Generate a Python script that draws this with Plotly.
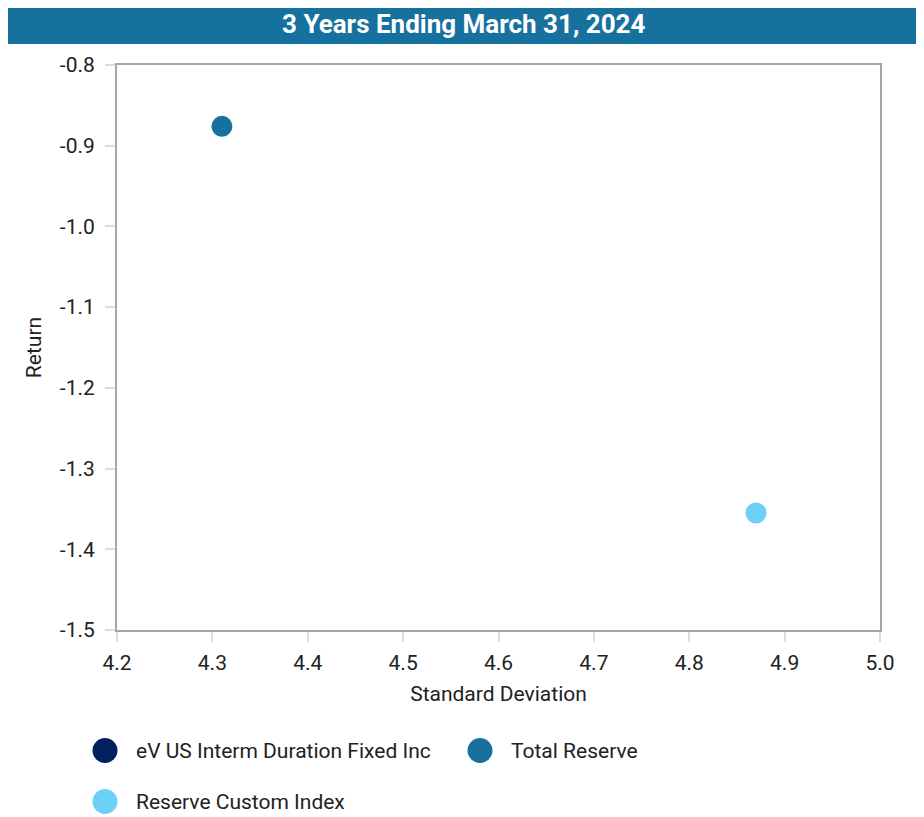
import plotly.graph_objects as go

series_names = ["eV US Interm Duration Fixed Inc", "Total Reserve", "Reserve Custom Index"]
series_colors = ["#022060", "#17719F", "#6DD0F7"]
std_dev = [None, 4.31, 4.87]
returns = [None, -0.876, -1.355]

x_ticks = [4.2, 4.3, 4.4, 4.5, 4.6, 4.7, 4.8, 4.9, 5.0]
y_ticks = [-0.8, -0.9, -1.0, -1.1, -1.2, -1.3, -1.4, -1.5]

OFF = 8  # page body margin
W, H = 916, 809
L, R, T, B = 109, 44, 57, 187
pw, ph = W - L - R, H - T - B

def px_x(p):
    return (p - OFF - L) / pw

def px_y(p):
    return (H - B - (p - OFF)) / ph

fig = go.Figure()
for name, col, x, y in zip(series_names, series_colors, std_dev, returns):
    fig.add_trace(go.Scatter(x=[x], y=[y], mode="markers", name=name,
                             marker=dict(color=col, size=21, line=dict(width=0)),
                             showlegend=False))

shapes = [dict(type="rect", xref="paper", yref="paper",
               x0=px_x(6), x1=px_x(918), y0=px_y(2), y1=px_y(44),
               fillcolor="#17719F", line=dict(width=0), layer="above")]
annotations = [dict(text="<b>3 Years Ending March 31, 2024</b>", xref="paper", yref="paper",
                    x=px_x(464), y=px_y(24), showarrow=False,
                    font=dict(family="Roboto", size=26, color="white"),
                    xanchor="center", yanchor="middle")]

legend_pos = [(105, 750.5), (480, 750.5), (105, 801.5)]
r = 12.5
for (cx, cy), name, col in zip(legend_pos, series_names, series_colors):
    shapes.append(dict(type="circle", xref="paper", yref="paper",
                       x0=px_x(cx - r), x1=px_x(cx + r), y0=px_y(cy + r), y1=px_y(cy - r),
                       fillcolor=col, line=dict(width=0)))
    annotations.append(dict(text=name, xref="paper", yref="paper",
                            x=px_x(cx + 29), y=px_y(cy), showarrow=False,
                            xanchor="left", yanchor="middle",
                            font=dict(family="Roboto", size=21, color="#222222")))

fig.update_layout(
    width=W, height=H,
    margin=dict(l=L, r=R, t=T, b=B, autoexpand=False),
    paper_bgcolor="white", plot_bgcolor="white",
    font=dict(family="Roboto", size=21, color="#222222"),
    shapes=shapes, annotations=annotations,
    showlegend=False,
)
fig.update_xaxes(range=[4.2, 5.0], tickvals=x_ticks, ticktext=[f"{v:.1f}" for v in x_ticks],
                 showgrid=False, zeroline=False, showline=True, linecolor="#A6A6A6", linewidth=2,
                 mirror=True, ticks="outside", ticklen=10, tickwidth=2, tickcolor="#DDDDDD",
                 ticklabelstandoff=3,
                 title=dict(text="Standard Deviation", standoff=12, font=dict(size=21)))
fig.update_yaxes(range=[-1.5, -0.8], tickvals=y_ticks, ticktext=[f"{v:.1f}" for v in y_ticks],
                 showgrid=False, zeroline=False, showline=True, linecolor="#A6A6A6", linewidth=2,
                 mirror=True, ticks="outside", ticklen=10, tickwidth=2, tickcolor="#DDDDDD",
                 ticklabelstandoff=6,
                 title=dict(text="Return", standoff=12, font=dict(size=21)))

fig.write_html("out.html")
